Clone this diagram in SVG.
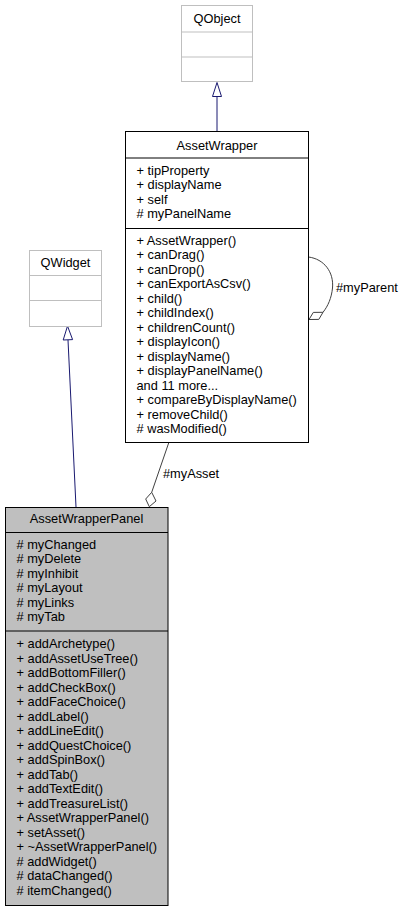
<svg xmlns="http://www.w3.org/2000/svg" width="403" height="912" viewBox="0 0 403 912">
<style>
text{font-family:"Liberation Sans",Arial,Helvetica,sans-serif;font-size:12.8px;fill:#000}
.c{text-anchor:middle}
.box{fill:#fff;stroke:#000;stroke-width:1}
.ext{fill:#fff;stroke:#bfbfbf;stroke-width:1}
.ext-line{stroke:#bfbfbf;stroke-width:1}
.line{stroke:#000;stroke-width:1}
.cur{fill:#bfbfbf;stroke:#000;stroke-width:1}
.inh{fill:none;stroke:#191970;stroke-width:1}
.inhhead{fill:#fff;stroke:#191970;stroke-width:1}
.assoc{fill:none;stroke:#404040;stroke-width:1}
.diam{fill:#fff;stroke:#404040;stroke-width:1}
</style>
<rect width="403" height="912" fill="#fff"/>
<g id="connectors">
<line class="inh" x1="217" y1="131" x2="217" y2="96"/>
<polygon class="inhhead" points="217,82.5 212.5,96.5 221.5,96.5"/>
<line class="inh" x1="76" y1="507" x2="68" y2="340"/>
<polygon class="inhhead" points="67.5,326 63.2,340 72.6,339.6"/>
<line class="assoc" x1="169" y1="442" x2="151.7" y2="492.3"/>
<polygon class="diam" points="149.3,506.7 145.7,499 151.7,492.3 156,501"/>
<text x="163" y="478">#myAsset</text>
<path class="assoc" d="M308.5,257 C324,259 334,272 332.5,288 C331.5,298 328,306 323,312.3"/>
<polygon class="diam" points="309,319.5 313.3,312.4 323,312.3 318.8,319.4"/>
<text x="336" y="291.5">#myParent</text>
</g>
<g id="QObject">
<rect class="ext" x="181.5" y="5.5" width="71" height="76"/>
<line class="ext-line" x1="181.5" y1="32" x2="252.5" y2="32"/>
<line class="ext-line" x1="181.5" y1="57" x2="252.5" y2="57"/>
<text class="c" x="217" y="22.5">QObject</text>
</g>
<g id="AssetWrapper">
<rect class="box" x="125.5" y="131.5" width="183" height="311"/>
<line class="line" x1="125.5" y1="158" x2="308.5" y2="158"/>
<line class="line" x1="125.5" y1="228.5" x2="308.5" y2="228.5"/>
<text class="c" x="217" y="149.5">AssetWrapper</text>
<text x="136.5" y="174.5">+ tipProperty</text>
<text x="136.5" y="189">+ displayName</text>
<text x="136.5" y="203.5">+ self</text>
<text x="136.5" y="218"># myPanelName</text>
<text x="136.5" y="244.5">+ AssetWrapper()</text>
<text x="136.5" y="259">+ canDrag()</text>
<text x="136.5" y="273.5">+ canDrop()</text>
<text x="136.5" y="288">+ canExportAsCsv()</text>
<text x="136.5" y="302.5">+ child()</text>
<text x="136.5" y="317">+ childIndex()</text>
<text x="136.5" y="331.5">+ childrenCount()</text>
<text x="136.5" y="346">+ displayIcon()</text>
<text x="136.5" y="360.5">+ displayName()</text>
<text x="136.5" y="375">+ displayPanelName()</text>
<text x="136.5" y="389.5">and 11 more...</text>
<text x="136.5" y="404">+ compareByDisplayName()</text>
<text x="136.5" y="418.5">+ removeChild()</text>
<text x="136.5" y="433"># wasModified()</text>
</g>
<g id="QWidget">
<rect class="ext" x="29.5" y="250.5" width="72" height="76"/>
<line class="ext-line" x1="29.5" y1="275.5" x2="101.5" y2="275.5"/>
<line class="ext-line" x1="29.5" y1="300.5" x2="101.5" y2="300.5"/>
<text class="c" x="65.5" y="266.5">QWidget</text>
</g>
<g id="AssetWrapperPanel">
<rect class="cur" x="5.5" y="507.5" width="162.5" height="398"/>
<line class="line" x1="5.5" y1="532.5" x2="168" y2="532.5"/>
<line class="line" x1="5.5" y1="631" x2="168" y2="631"/>
<text class="c" x="86.5" y="523">AssetWrapperPanel</text>
<text x="16.5" y="548.5"># myChanged</text>
<text x="16.5" y="563"># myDelete</text>
<text x="16.5" y="577.5"># myInhibit</text>
<text x="16.5" y="592"># myLayout</text>
<text x="16.5" y="606.5"># myLinks</text>
<text x="16.5" y="621"># myTab</text>
<text x="16.5" y="648">+ addArchetype()</text>
<text x="16.5" y="662.5">+ addAssetUseTree()</text>
<text x="16.5" y="677">+ addBottomFiller()</text>
<text x="16.5" y="691.5">+ addCheckBox()</text>
<text x="16.5" y="706">+ addFaceChoice()</text>
<text x="16.5" y="720.5">+ addLabel()</text>
<text x="16.5" y="735">+ addLineEdit()</text>
<text x="16.5" y="749.5">+ addQuestChoice()</text>
<text x="16.5" y="764">+ addSpinBox()</text>
<text x="16.5" y="778.5">+ addTab()</text>
<text x="16.5" y="793">+ addTextEdit()</text>
<text x="16.5" y="807.5">+ addTreasureList()</text>
<text x="16.5" y="822">+ AssetWrapperPanel()</text>
<text x="16.5" y="836.5">+ setAsset()</text>
<text x="16.5" y="851">+ ~AssetWrapperPanel()</text>
<text x="16.5" y="865.5"># addWidget()</text>
<text x="16.5" y="880"># dataChanged()</text>
<text x="16.5" y="894.5"># itemChanged()</text>
</g>
</svg>
